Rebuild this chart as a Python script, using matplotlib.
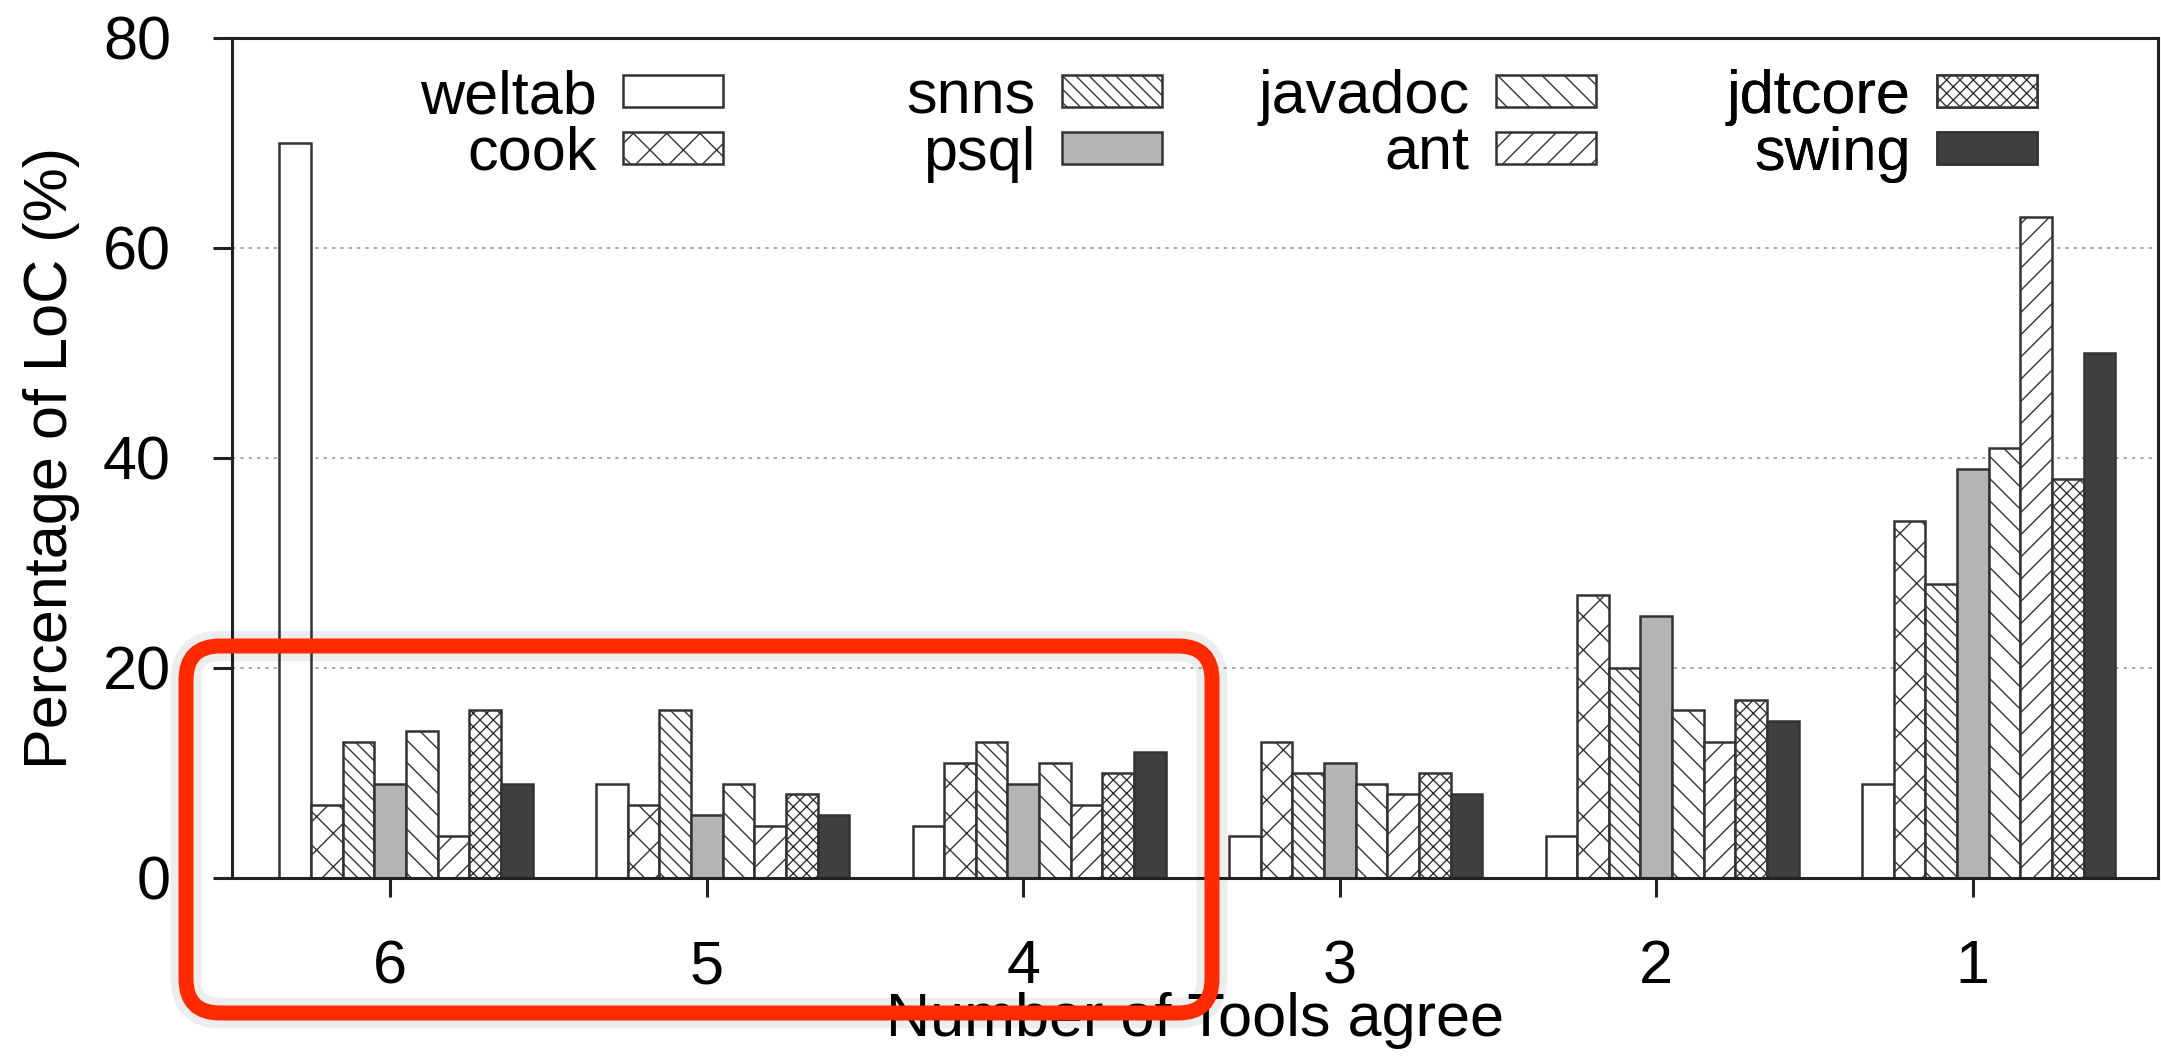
import numpy as np
import matplotlib
matplotlib.use("Agg")
import matplotlib.pyplot as plt
from matplotlib.patches import FancyBboxPatch


# groups on the x axis (number of tools that agree)
groups = ["6", "5", "4", "3", "2", "1"]
projects = ["weltab", "cook", "snns", "psql", "javadoc", "ant", "jdtcore", "swing"]

# percentage of LoC per project, one value per group
weltab = [70, 9, 5, 4, 4, 9]
cook = [7, 7, 11, 13, 27, 34]
snns = [13, 16, 13, 10, 20, 28]
psql = [9, 6, 9, 11, 25, 39]
javadoc = [14, 9, 11, 9, 16, 41]
ant = [4, 5, 7, 8, 13, 63]
jdtcore = [16, 8, 10, 10, 17, 38]
swing = [9, 6, 12, 8, 15, 50]

W, H = 2161, 1059
DPI = 200

plt.rcParams["font.family"] = ["Liberation Sans", "DejaVu Sans"]
plt.rcParams["hatch.linewidth"] = 0.5


def make_plot():
    fig = plt.figure(figsize=(W / DPI, H / DPI), dpi=DPI)
    ax = fig.add_axes([232 / W, 1 - 878 / H, (2158 - 232) / W, (878 - 38) / H])

    series = [weltab, cook, snns, psql, javadoc, ant, jdtcore, swing]
    fills = ["white", "white", "white", "#b4b4b4", "white", "white", "white", "#404040"]
    hatches = ["", "xx", "\\" * 5, "", "\\" * 3, "///", "x" * 5, ""]
    width = 0.1
    x = np.arange(len(groups))

    for i, (name, vals) in enumerate(zip(projects, series)):
        ax.bar(x + (i - 3) * width, vals, width, color=fills[i],
               edgecolor="#333333", hatch=hatches[i], linewidth=0.9,
               label=name, zorder=2)

    ax.set_xlim(-0.5, 5.585)
    ax.set_ylim(0, 80)
    ax.set_yticks([0, 20, 40, 60, 80])
    ax.set_xticks(x)
    ax.set_xticklabels(groups)
    ax.tick_params(axis="both", direction="out", length=7, width=1.1,
                   labelsize=22, pad=15, color="#222222")
    ax.tick_params(top=False, right=False)
    for sp in ax.spines.values():
        sp.set_linewidth(1.1)
        sp.set_color("#222222")

    ax.grid(axis="y", linestyle=(0, (2, 3)), color="#999999", linewidth=0.6)
    ax.set_axisbelow(True)

    ax.set_ylabel("Percentage of LoC (%)", fontsize=22)
    ax.yaxis.set_label_coords(-0.079, 0.5)
    ax.set_xlabel("Number of Tools agree", fontsize=22, labelpad=-1.5)

    # legend: four columns, label left of the swatch
    handles, labels = ax.get_legend_handles_labels()
    col_right = [723, 1162, 1596, 2037]
    for c in range(4):
        leg = ax.legend(handles[2 * c:2 * c + 2], labels[2 * c:2 * c + 2],
                        loc="upper right",
                        bbox_to_anchor=(col_right[c] / W, 1 - 69 / H),
                        bbox_transform=fig.transFigure,
                        markerfirst=False, frameon=False, fontsize=22,
                        handlelength=1.64, handleheight=0.43,
                        handletextpad=0.43, labelspacing=0.0,
                        borderpad=0, borderaxespad=0)
        ax.add_artist(leg)

    # red highlight box around groups 6, 5, 4
    box_kw = dict(boxstyle="round,pad=0,rounding_size=0.17",
                  transform=fig.dpi_scale_trans, fill=False)
    shadow = FancyBboxPatch((0.93, 0.23), 5.13, 1.835, edgecolor="black",
                            alpha=0.07, linewidth=11, **box_kw)
    box = FancyBboxPatch((0.93, 0.23), 5.13, 1.835, edgecolor="#ff2a00",
                         linewidth=5.4, **box_kw)
    fig.add_artist(shadow)
    fig.add_artist(box)

    fig.savefig("out.png", dpi=DPI, facecolor="white")
    plt.close(fig)


if __name__ == "__main__":
    make_plot()
